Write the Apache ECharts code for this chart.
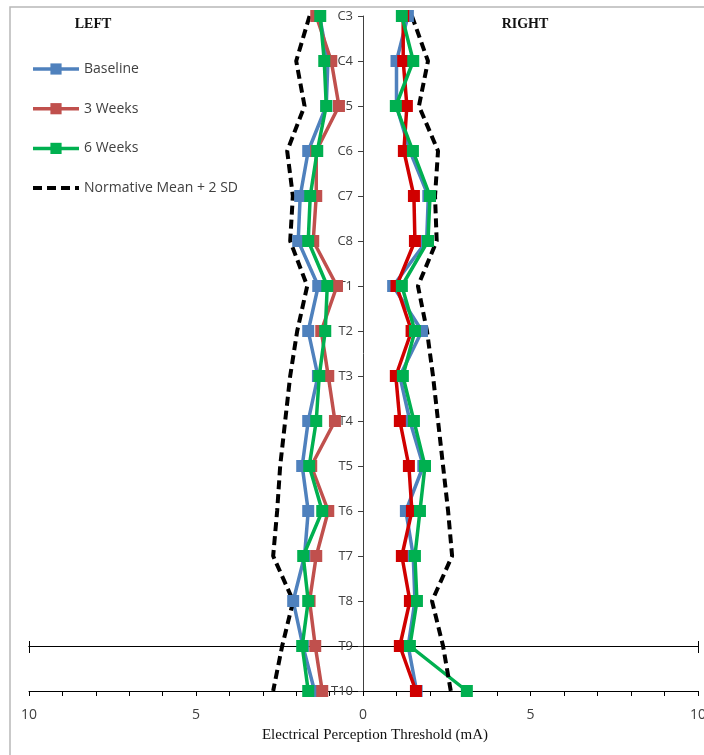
<!DOCTYPE html>
<html>
<head>
<meta charset="utf-8">
<script src="https://cdn.jsdelivr.net/npm/echarts@6/dist/echarts.min.js"></script>
<style>
  html, body { margin: 0; padding: 0; background: #ffffff; }
  #chart { width: 704px; height: 755px; }
</style>
</head>
<body>
<div id="chart"></div>
<script>
// Spinal levels, top to bottom
const levels = ['C3', 'C4', 'C5', 'C6', 'C7', 'C8', 'T1', 'T2', 'T3', 'T4', 'T5', 'T6', 'T7', 'T8', 'T9', 'T10'];

// Electrical perception threshold (mA), left side
const baselineLeft   = [1.30, 1.05, 1.10, 1.64, 1.88, 1.94, 1.34, 1.64, 1.35, 1.64, 1.82, 1.64, 1.75, 2.09, 1.80, 1.45];
const weeks3Left     = [1.40, 0.95, 0.72, 1.40, 1.40, 1.49, 0.78, 1.25, 1.04, 0.84, 1.55, 1.04, 1.40, 1.60, 1.43, 1.22];
const weeks6Left     = [1.28, 1.16, 1.10, 1.37, 1.58, 1.64, 1.07, 1.13, 1.31, 1.40, 1.61, 1.22, 1.79, 1.64, 1.82, 1.64];
const normativeLeft  = [1.60, 2.00, 1.75, 2.27, 2.10, 2.18, 1.67, 1.97, 2.18, 2.33, 2.48, 2.57, 2.69, 2.09, 2.42, 2.69];

// Electrical perception threshold (mA), right side
const baselineRight  = [1.34, 1.00, 1.00, 1.40, 1.95, 1.90, 0.90, 1.76, 1.10, 1.40, 1.80, 1.28, 1.50, 1.55, 1.35, 1.60];
const weeks3Right    = [1.20, 1.20, 1.31, 1.22, 1.52, 1.55, 1.00, 1.45, 0.98, 1.10, 1.37, 1.46, 1.16, 1.40, 1.10, 1.58];
const weeks6Right    = [1.16, 1.50, 0.98, 1.49, 2.00, 1.94, 1.16, 1.55, 1.19, 1.52, 1.85, 1.70, 1.55, 1.61, 1.40, 3.10];
const normativeRight = [1.46, 1.94, 1.67, 2.24, 2.15, 2.20, 1.64, 1.91, 2.09, 2.24, 2.39, 2.54, 2.66, 2.06, 2.39, 2.62];

// Labelled threshold values on each side
const leftTickLabels = [5, 10];
const rightTickLabels = [0, 5, 10];

const SERIES_NAMES = ['Baseline', '3 Weeks', '6 Weeks', 'Normative Mean + 2 SD'];

const blue = '#4F81BD';
const redLeft = '#C0504D';
const redRight = '#D00000';
const green = '#00B050';

const chart = echarts.init(document.getElementById('chart'), null, { renderer: 'canvas' });

function dataLine(name, values, color, side) {
  return {
    name: name,
    type: 'line',
    data: values,
    xAxisIndex: side,
    yAxisIndex: side,
    symbol: 'rect',
    symbolSize: 12,
    showSymbol: true,
    lineStyle: { color: color, width: 3.5 },
    itemStyle: { color: color },
    emphasis: { disabled: true },
    animation: false
  };
}

function normLine(values, side) {
  return {
    name: SERIES_NAMES[3],
    type: 'line',
    data: values,
    xAxisIndex: side,
    yAxisIndex: side,
    symbol: 'none',
    lineStyle: { color: '#000000', width: 4, type: [9, 5] },
    itemStyle: { color: '#000000' },
    emphasis: { disabled: true },
    animation: false
  };
}

const labelStyle = { fontFamily: 'Open Sans', fontSize: 14, color: '#404040' };

function thresholdAxis(gridIndex, inverse, labels) {
  return {
    type: 'value',
    gridIndex: gridIndex,
    min: 0,
    max: 10,
    interval: 1,
    inverse: inverse,
    position: 'bottom',
    axisLine: { show: true, onZero: false, lineStyle: { color: '#000000', width: 1 } },
    axisTick: { show: true, length: 5, lineStyle: { color: '#000000' } },
    axisLabel: Object.assign({ customValues: labels, margin: 17 }, labelStyle),
    splitLine: { show: false }
  };
}

// Horizontal reference line at T9 with end caps at the outer edges
function crossLineAxis(gridIndex, inverse, capInside) {
  return {
    type: 'value',
    gridIndex: gridIndex,
    min: 0,
    max: 10,
    inverse: inverse,
    position: 'bottom',
    offset: -45,
    axisLine: { show: true, onZero: false, lineStyle: { color: '#000000', width: 1 } },
    axisTick: {
      show: true,
      customValues: [10],
      inside: capInside,
      length: capInside ? 5 : 7,
      lineStyle: { color: '#000000' }
    },
    axisLabel: { show: false },
    splitLine: { show: false }
  };
}

const option = {
  animation: false,
  backgroundColor: '#ffffff',
  grid: [
    { left: 29, width: 334, top: 16, bottom: 64, containLabel: false, outerBoundsMode: 'none' },
    { left: 363, right: 6, top: 16, bottom: 64, containLabel: false, outerBoundsMode: 'none' }
  ],
  legend: {
    data: [
      { name: SERIES_NAMES[0], lineStyle: { width: 3.5 } },
      { name: SERIES_NAMES[1], lineStyle: { width: 3.5 } },
      { name: SERIES_NAMES[2], lineStyle: { width: 3.5 } },
      { name: SERIES_NAMES[3], lineStyle: { width: 4 }, itemStyle: { opacity: 0 } }
    ],
    orient: 'vertical',
    left: 31,
    top: 62,
    padding: 0,
    itemWidth: 46,
    itemHeight: 14,
    itemGap: 25.7,
    textStyle: { fontFamily: 'Open Sans', fontSize: 14, color: '#404040' },
    selectedMode: false
  },
  xAxis: [
    thresholdAxis(0, true, leftTickLabels),
    thresholdAxis(1, false, rightTickLabels),
    crossLineAxis(0, true, false),
    crossLineAxis(1, false, false),
    crossLineAxis(0, true, true),
    crossLineAxis(1, false, true)
  ],
  yAxis: [
    {
      type: 'category',
      gridIndex: 0,
      data: levels,
      inverse: true,
      boundaryGap: false,
      axisLine: { show: false },
      axisTick: { show: false },
      axisLabel: { show: false },
      splitLine: { show: false }
    },
    {
      type: 'category',
      gridIndex: 1,
      data: levels,
      inverse: true,
      boundaryGap: false,
      position: 'left',
      axisLine: { show: true, onZero: false, lineStyle: { color: '#404040', width: 1 } },
      axisTick: { show: true, length: 5, lineStyle: { color: '#404040' } },
      axisLabel: { margin: 10, fontFamily: 'Open Sans', fontSize: 13, color: '#404040' },
      splitLine: { show: false }
    }
  ],
  series: [
    dataLine(SERIES_NAMES[0], baselineLeft, blue, 0),
    dataLine(SERIES_NAMES[0], baselineRight, blue, 1),
    dataLine(SERIES_NAMES[1], weeks3Left, redLeft, 0),
    dataLine(SERIES_NAMES[1], weeks3Right, redRight, 1),
    dataLine(SERIES_NAMES[2], weeks6Left, green, 0),
    dataLine(SERIES_NAMES[2], weeks6Right, green, 1),
    normLine(normativeLeft, 0),
    normLine(normativeRight, 1)
  ],
  graphic: [
    {
      type: 'rect',
      shape: { x: 10, y: 7, width: 720, height: 800 },
      style: { fill: 'none', stroke: '#b8b8b8', lineWidth: 1.5 },
      z: -10,
      silent: true
    },
    {
      type: 'text',
      x: 93,
      y: 24,
      style: {
        text: 'LEFT',
        font: 'bold 14px "Liberation Serif"',
        fill: '#111111',
        align: 'center',
        verticalAlign: 'middle'
      }
    },
    {
      type: 'text',
      x: 525,
      y: 24,
      style: {
        text: 'RIGHT',
        font: 'bold 14px "Liberation Serif"',
        fill: '#111111',
        align: 'center',
        verticalAlign: 'middle'
      }
    },
    {
      type: 'text',
      x: 375,
      y: 735,
      style: {
        text: 'Electrical Perception Threshold (mA)',
        font: '15px "Liberation Serif"',
        fill: '#111111',
        align: 'center',
        verticalAlign: 'middle'
      }
    }
  ]
};

chart.setOption(option);
</script>
</body>
</html>
